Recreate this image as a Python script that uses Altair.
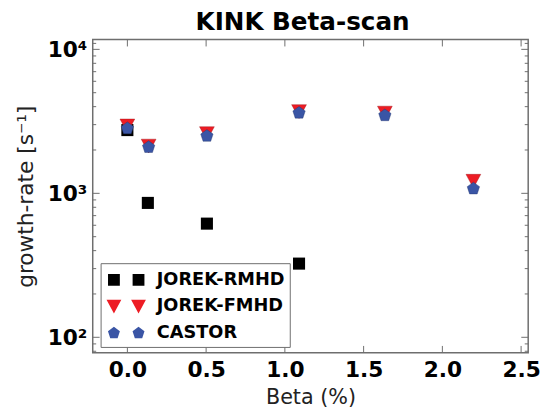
import altair as alt
import pandas as pd

# ---- data ----
series = ["JOREK-RMHD", "JOREK-FMHD", "CASTOR"]
colors = ["#000000", "#ed1c24", "#3a55a5"]

beta_rmhd = [0.0, 0.13, 0.505, 1.09]
rate_rmhd = [2750, 858, 616, 325]

beta_fmhd = [0.0, 0.135, 0.505, 1.09, 1.635, 2.197]
rate_fmhd = [2940, 2130, 2600, 3700, 3610, 1214]

beta_castor = [0.0, 0.135, 0.505, 1.09, 1.635, 2.197]
rate_castor = [2825, 2090, 2500, 3620, 3475, 1077]

x_ticks = [0.0, 0.5, 1.0, 1.5, 2.0, 2.5]
y_major = [100, 1000, 10000]
y_minor = [80, 90, 200, 300, 400, 500, 600, 700, 800, 900,
           2000, 3000, 4000, 5000, 6000, 7000, 8000, 9000, 11000]
y_labels = {100: "10²", 1000: "10³", 10000: "10⁴"}

x_domain = [-0.22, 2.545]
y_domain = [78, 11700]

W, H = 442, 318
FONT = "DejaVu Sans"
FRAME = "#6e6e6e"

# marker shapes (styles)
PENTAGON = "M0,-1L0.951,-0.309L0.588,0.809L-0.588,0.809L-0.951,-0.309Z"
TRI_DOWN = "M-1,-0.93L1,-0.93L0,0.93Z"
LEG_SQ = "M-1.54,-0.5H-0.54V0.5H-1.54Z M0.54,-0.5H1.54V0.5H0.54Z"
LEG_TRI = ("M-1.665,-0.58L-0.415,-0.58L-1.04,0.58Z "
           "M0.415,-0.58L1.665,-0.58L1.04,0.58Z")
LEG_PENT = ("M-1.04,-0.53L-0.536,-0.164L-0.728,0.429L-1.352,0.429L-1.544,-0.164Z "
            "M1.04,-0.53L1.544,-0.164L1.352,0.429L0.728,0.429L0.536,-0.164Z")

df_r = pd.DataFrame({"beta": beta_rmhd, "rate": rate_rmhd, "series": series[0]})
df_f = pd.DataFrame({"beta": beta_fmhd, "rate": rate_fmhd, "series": series[1]})
df_c = pd.DataFrame({"beta": beta_castor, "rate": rate_castor, "series": series[2]})
df_all = pd.concat([df_r, df_f, df_c], ignore_index=True)

df_xt = pd.DataFrame({"beta": x_ticks})
df_ymaj = pd.DataFrame({"rate": y_major})
df_ymin = pd.DataFrame({"rate": y_minor})

xscale = alt.Scale(domain=x_domain, nice=False, zero=False)
yscale = alt.Scale(type="log", domain=y_domain, nice=False)

label_expr = " : ".join(
    [f"datum.value == {k} ? '{v}'" for k, v in list(y_labels.items())[:-1]]
) + f" : '{list(y_labels.values())[-1]}'"

xaxis = alt.Axis(values=x_ticks, format=".1f", title="Beta (%)",
                 labelFont=FONT, labelFontSize=22, labelFontWeight="bold",
                 labelColor="black", labelPadding=7, labelFlush=False,
                 labelOverlap=False, ticks=False, domain=False, grid=False,
                 titleFont=FONT, titleFontSize=21, titleFontWeight="normal",
                 titleColor="#222222", titlePadding=6)
yaxis = alt.Axis(values=y_major, labelExpr=label_expr, title="growth-rate [s⁻¹]",
                 labelFont=FONT, labelFontSize=22, labelFontWeight="bold",
                 labelColor="black", labelPadding=6, labelOverlap=False,
                 ticks=False, domain=False, grid=False,
                 titleFont=FONT, titleFontSize=22, titleFontWeight="normal",
                 titleColor="#222222", titlePadding=10)

X = alt.X("beta:Q", scale=xscale, axis=xaxis)
Y = alt.Y("rate:Q", scale=yscale, axis=yaxis)

# ---- inward ticks ----
tick_style = dict(color=FRAME, strokeWidth=1)
t_left_maj = alt.Chart(df_ymaj).mark_rule(**tick_style).encode(
    y=Y, x=alt.value(0), x2=alt.value(7))
t_right_maj = alt.Chart(df_ymaj).mark_rule(**tick_style).encode(
    y=Y, x=alt.value(W - 7), x2=alt.value(W))
t_left_min = alt.Chart(df_ymin).mark_rule(**tick_style).encode(
    y=Y, x=alt.value(0), x2=alt.value(3.5))
t_right_min = alt.Chart(df_ymin).mark_rule(**tick_style).encode(
    y=Y, x=alt.value(W - 3.5), x2=alt.value(W))
t_top = alt.Chart(df_xt).mark_rule(**tick_style).encode(
    x=X, y=alt.value(0), y2=alt.value(7))
t_bot = alt.Chart(df_xt).mark_rule(**tick_style).encode(
    x=X, y=alt.value(H - 7), y2=alt.value(H))

# ---- data markers ----
pts_r = alt.Chart(df_r).mark_point(filled=True, shape="square", size=150,
                                   color=colors[0], opacity=1).encode(x=X, y=Y)
pts_f = alt.Chart(df_f).mark_point(filled=True, shape=TRI_DOWN, size=225,
                                   color=colors[1], opacity=1,
                                   stroke="#9a1015", strokeWidth=0.4).encode(x=X, y=Y)
pts_c = alt.Chart(df_c).mark_point(filled=True, shape=PENTAGON, size=174,
                                   color=colors[2], opacity=1,
                                   stroke="#22336a", strokeWidth=0.4).encode(x=X, y=Y)

# ---- legend (invisible layer that only feeds the legend) ----
leg_layer = alt.Chart(df_all).mark_point(filled=True, opacity=0, size=576).encode(
    x=X, y=Y,
    color=alt.Color("series:N", scale=alt.Scale(domain=series, range=colors),
                    title=None, sort=series),
    shape=alt.Shape("series:N", scale=alt.Scale(domain=series,
                                                range=[LEG_SQ, LEG_TRI, LEG_PENT]),
                    title=None, sort=series),
)

chart = alt.layer(
    t_left_maj, t_right_maj, t_left_min, t_right_min, t_top, t_bot,
    leg_layer, pts_r, pts_f, pts_c,
).properties(
    width=W, height=H,
    title=alt.TitleParams("KINK Beta-scan", font=FONT, fontSize=25,
                          fontWeight="bold", color="black", anchor="middle",
                          offset=4, dx=-8),
    autosize=alt.AutoSizeParams(type="none"),
    padding={"left": 86, "top": 29, "right": 13, "bottom": 55},
).configure_view(
    stroke=FRAME, strokeWidth=1.5,
).configure_legend(
    orient="none", legendX=8, legendY=227, padding=5,
    strokeColor=FRAME, fillColor="white",
    symbolSize=576, symbolOpacity=1, symbolStrokeWidth=0,
    symbolOffset=9, labelOffset=19, rowPadding=6,
    labelFont=FONT, labelFontSize=18, labelFontWeight="bold",
    labelColor="black", labelLimit=300,
)

chart.save("out.html", embed_options={"renderer": "svg", "actions": False})
